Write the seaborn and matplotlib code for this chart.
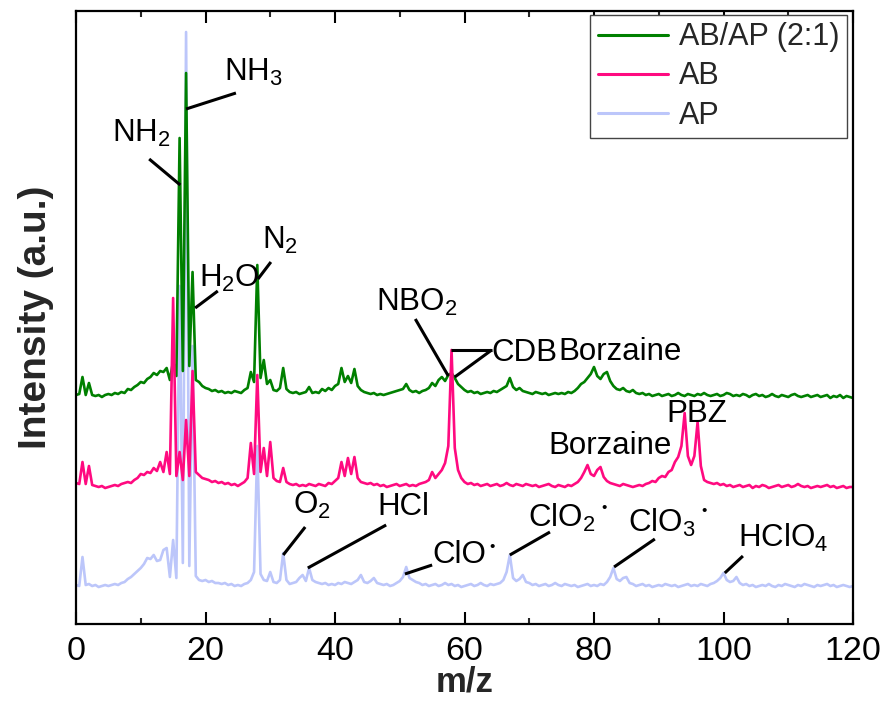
import numpy as np
import pandas as pd
import matplotlib
matplotlib.use("Agg")
import matplotlib.pyplot as plt
import seaborn as sns

# ---------------- data ----------------
mz = [i * 0.5 for i in range(241)]  # 0 .. 120 step 0.5

series_names = ["AB/AP (2:1)", "AB", "AP"]

ab_ap = [
    1, 2, 19, 1, 13, 1, 0, 1, -1, 1,
    2, 1, 3, 2, 4, 3, 7, 6, 9, 11,
    14, 13, 17, 19, 23, 21, 25, 24, 28, 16,
    35, 20, 258, 25, 323, 30, 124, 16, 14, 10,
    8, 7, 5, 6, 4, 5, 3, 4, 3, 5,
    4, 3, 6, 8, 24, 14, 131, 18, 36, 12,
    16, 6, 5, 8, 28, 7, 4, 3, 4, 2,
    3, 4, 9, 3, 4, 3, 7, 5, 8, 6,
    10, 12, 28, 14, 20, 13, 27, 10, 6, 4,
    3, 2, 3, 1, 2, 1, 2, 3, 4, 5,
    6, 7, 12, 6, 4, 5, 3, 5, 6, 8,
    13, 10, 16, 19, 15, 21, 23, 18, 12, 9,
    6, 4, 5, 3, 4, 2, 3, 4, 3, 5,
    4, 6, 8, 10, 18, 9, 6, 8, 5, 4,
    3, 2, 4, 3, 2, 3, 1, 2, 3, 2,
    3, 2, 4, 3, 5, 8, 12, 14, 18, 22,
    29, 20, 17, 22, 24, 15, 10, 7, 6, 8,
    5, 4, 6, 3, 2, 3, 1, 2, 0, 1,
    2, 0, 1, 2, 0, 1, 3, 1, 0, 2,
    1, 0, 2, 1, 3, 1, 0, 1, 2, 0,
    1, 3, 2, 0, 1, 0, 2, 1, -1, 1,
    2, 0, 1, -1, 0, 2, 0, -1, 1, 0,
    -1, 1, 2, 0, -1, 0, 1, -1, 0, 1,
    -1, 0, 1, -2, 0, -1, 1, -2, 0, -1,
    -2,
]

ab = [
    3, 2, 24, 2, 20, 1, 0, -1, 0, -2,
    -1, 0, 1, 0, 2, 3, 4, 3, 6, 8,
    12, 11, 14, 13, 18, 15, 24, 14, 34, 12,
    188, 10, 34, 6, 66, 10, 115, 14, 11, 8,
    7, 6, 4, 5, 3, 4, 2, 3, 1, 2,
    0, 2, 4, 8, 43, 12, 111, 14, 38, 10,
    44, 8, 5, 4, 18, 4, 2, 1, 2, 0,
    1, 0, 2, 1, 0, 2, 1, 0, 3, 2,
    5, 8, 24, 10, 28, 12, 29, 8, 4, 3,
    2, 3, 1, 2, 0, 1, -1, 0, 1, 2,
    0, 1, 2, 0, 1, 0, 2, 3, 4, 6,
    14, 8, 12, 16, 23, 40, 136, 38, 16, 8,
    4, 2, 3, 1, 2, 0, 1, 2, 0, 1,
    2, 0, 1, 3, 1, 0, 2, 1, 0, 2,
    1, 0, 1, -1, 0, 1, 2, 0, -1, 1,
    0, -1, 1, 0, 2, 4, 8, 14, 21, 12,
    10, 16, 19, 9, 5, 3, 2, 1, 0, 2,
    1, 0, -1, 0, 1, 0, 2, 3, 5, 4,
    8, 10, 9, 14, 16, 24, 29, 40, 73, 30,
    21, 30, 64, 20, 6, 4, 3, 2, 3, 1,
    2, 0, 1, -1, 0, 1, -1, 0, 1, -2,
    0, -1, 1, 0, -2, -1, 0, 1, -1, 0,
    1, -1, 0, 2, 0, -1, 0, -2, -1, 0,
    -1, 0, 1, -1, 0, -2, -1, 0, -2, -1,
    -1,
]

ap = [
    1, 0, 29, 1, 2, 0, 1, -1, 0, 1,
    0, 1, 2, 1, 3, 4, 7, 9, 12, 15,
    18, 22, 28, 27, 31, 25, 26, 36, 38, 9,
    46, 8, 300, 23, 554, 20, 240, 10, 6, 5,
    6, 4, 5, 3, 3, 2, 3, 1, 2, 0,
    1, 0, 2, 3, 6, 14, 140, 12, 6, 5,
    14, 4, 3, 6, 33, 6, 2, 3, 4, 8,
    11, 5, 18, 6, 4, 3, 2, 3, 1, 2,
    1, 3, 2, 4, 3, 2, 4, 6, 11, 4,
    3, 5, 8, 3, 2, 1, 2, 0, 1, 3,
    5, 9, 19, 8, 6, 4, 3, 1, 2, 0,
    1, 2, 0, 1, 3, 1, 2, 0, 1, -1,
    0, 1, 2, 0, 1, 3, 1, 0, 2, 1,
    2, 3, 6, 14, 31, 8, 5, 7, 11, 4,
    3, 1, 2, 0, 1, 2, 0, 1, 3, 1,
    0, 2, 1, 0, 1, -1, 0, 1, 2, 0,
    1, 0, 2, 1, 4, 9, 18, 7, 5, 8,
    9, 3, 2, 0, 1, 2, 0, 1, -1, 0,
    1, 0, 2, 1, 0, 1, -1, 0, 1, 2,
    0, 1, 0, 2, 1, 0, 2, 3, 5, 8,
    13, 6, 4, 5, 9, 3, 1, 2, 0, 1,
    -1, 0, 1, 0, 2, 0, -1, 1, 0, 2,
    1, 0, -1, 1, 0, 2, 1, 0, -1, 1,
    0, 1, 2, 0, 1, -1, 0, 1, 0, -1,
    0,
]

x_ticks = [0, 20, 40, 60, 80, 100, 120]

# peak labels: (text, text x, text y, line x0, y0, x1, y1)
labels = [
    (r"NH$_3$", 22.9, 543, 17.0, 515, 24.7, 531),
    (r"NH$_2$", 5.5, 482, 11.3, 465, 16.1, 439),
    (r"H$_2$O", 19.0, 337, 18.4, 316, 21.9, 333),
    (r"N$_2$", 28.7, 375, 28.1, 345, 30.1, 362),
    (r"NBO$_2$", 46.3, 313, 52.4, 305, 57.5, 248),
    ("CDB", 64.2, 263, 64.2, 274, 58.5, 247),
    ("Borzaine", 74.5, 264, None, None, None, None),
    ("Borzaine", 72.9, 170, None, None, None, None),
    ("PBZ", 91.2, 202, None, None, None, None),
    (r"O$_2$", 33.5, 110, 32.0, 69, 35.4, 97),
    ("HCl", 46.5, 109, 35.8, 56, 47.9, 99),
    ("ClO", 55.0, 61, 50.8, 50, 55.0, 59),
    (r"ClO$_2$", 69.8, 97, 67.0, 69, 73.2, 92),
    (r"ClO$_3$", 85.3, 92, 83.1, 57, 89.4, 85),
    (r"HClO$_4$", 102.2, 77, 100.2, 51, 103.0, 68),
]
radical_dots = [(64.2, 77), (81.6, 116), (97.0, 113)]
cdb_bar = (57.9, 64.2, 274)

# ---------------- styling ----------------
sns.set_theme(style="ticks")
plt.rcParams["font.family"] = ["Liberation Sans", "DejaVu Sans"]
plt.rcParams["mathtext.fontset"] = "custom"
plt.rcParams["mathtext.rm"] = "Liberation Sans"
plt.rcParams["mathtext.it"] = "Liberation Sans:italic"
plt.rcParams["mathtext.bf"] = "Liberation Sans:bold"

colors = {"AB/AP (2:1)": "#008000", "AB": "#FF0A80", "AP": "#BCC6FA"}
offsets = {"AB/AP (2:1)": 228, "AB": 138, "AP": 38}
values = {"AB/AP (2:1)": ab_ap, "AB": ab, "AP": ap}

fig = plt.figure(figsize=(8.9, 7.11), dpi=100)
ax = fig.add_axes([76 / 890, 87 / 711, 777 / 890, 613 / 711])

handles = {}
for name in ["AP", "AB/AP (2:1)", "AB"]:
    df = pd.DataFrame({"mz": mz, "signal": np.array(values[name]) + offsets[name]})
    sns.lineplot(data=df, x="mz", y="signal", ax=ax, color=colors[name],
                 linewidth=1.9, estimator=None, sort=False, label=name, legend=False)
    handles[name] = ax.lines[-1]

ax.set_xlim(0, 120)
ax.set_ylim(0, 613)
ax.set_xticks(x_ticks)
ax.set_xticks(np.arange(10, 120, 20), minor=True)
ax.set_yticks([])
ax.tick_params(axis="x", which="major", direction="in", length=8.5, width=1.5,
               top=True, labelsize=24.5, pad=8.5, colors="black")
ax.tick_params(axis="x", which="minor", direction="in", length=4, width=1.5,
               top=True, bottom=True)
for sp in ax.spines.values():
    sp.set_linewidth(1.6)
    sp.set_color("black")
    sp.set_visible(True)

ax.set_xlabel("m/z", fontsize=25, fontweight="bold", labelpad=-1)
ax.set_ylabel("Intensity (a.u.)", fontsize=28, fontweight="bold", labelpad=16)

for txt, tx, ty, x0, y0, x1, y1 in labels:
    ax.text(tx, ty, txt, fontsize=22.5, ha="left", va="baseline", color="black")
    if x0 is not None:
        ax.plot([x0, x1], [y0, y1], color="black", linewidth=2.2, solid_capstyle="butt")
ax.plot([cdb_bar[0], cdb_bar[1]], [cdb_bar[2], cdb_bar[2]], color="black",
        linewidth=2.2, solid_capstyle="butt")
for dx, dy in radical_dots:
    ax.text(dx, dy, "•", fontsize=11, ha="center", va="center", color="black")

leg = ax.legend([handles[n] for n in series_names], series_names,
                loc="upper right", bbox_to_anchor=(0.992, 0.994), fontsize=22,
                frameon=True, fancybox=False, framealpha=1, edgecolor="#444444",
                handlelength=2.3, handletextpad=0.35, labelspacing=0.3,
                borderpad=0.25, borderaxespad=0)
leg.get_frame().set_linewidth(1.0)
for line in leg.get_lines():
    line.set_linewidth(2.2)

fig.savefig("out.png", dpi=100)
